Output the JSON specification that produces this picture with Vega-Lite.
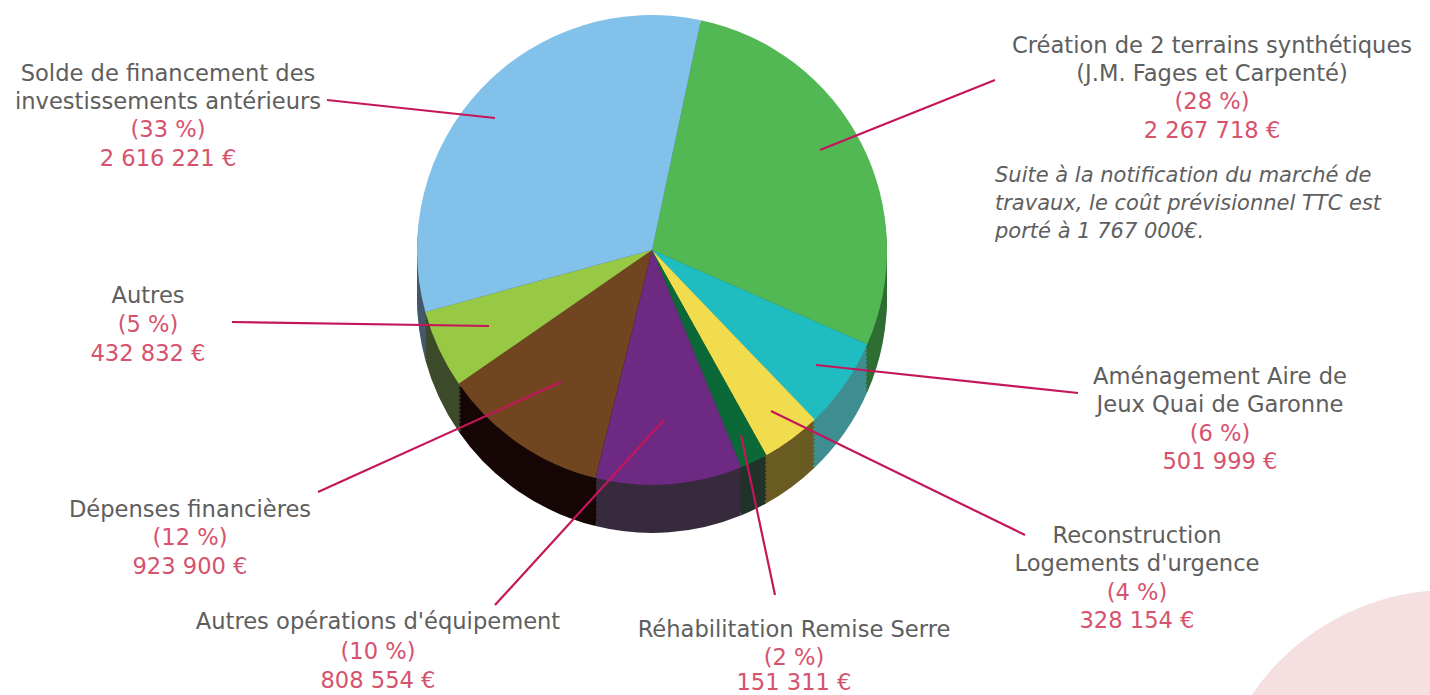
{
  "$schema": "https://vega.github.io/schema/vega-lite/v6.json",
  "width": 1430,
  "height": 695,
  "padding": 0,
  "autosize": {"type": "none"},
  "background": "white",
  "config": {"view": {"stroke": null}},
  "resolve": {"scale": {"color": "independent"}},
  "datasets": {
    "slices": [
      {"key": "Création de 2 terrains synthétiques", "value": 2267718, "rank": 1},
      {"key": "Aménagement Aire de Jeux Quai de Garonne", "value": 501999, "rank": 2},
      {"key": "Reconstruction Logements d'urgence", "value": 328154, "rank": 3},
      {"key": "Réhabilitation Remise Serre", "value": 151311, "rank": 4},
      {"key": "Autres opérations d'équipement", "value": 808554, "rank": 5},
      {"key": "Dépenses financières", "value": 923900, "rank": 6},
      {"key": "Autres", "value": 432832, "rank": 7},
      {"key": "Solde de financement des investissements antérieurs", "value": 2616221, "rank": 8}
    ],
    "deco": [{"shape": "disc"}],
    "leaders": [
      {"key": "Solde", "x": 327, "y": 100, "x2": 495, "y2": 118},
      {"key": "Création", "x": 995, "y": 80, "x2": 820, "y2": 150},
      {"key": "Aménagement", "x": 1078, "y": 393, "x2": 816, "y2": 365},
      {"key": "Reconstruction", "x": 1025, "y": 535, "x2": 771, "y2": 411},
      {"key": "Réhabilitation", "x": 775, "y": 595, "x2": 741, "y2": 435},
      {"key": "Autres opérations", "x": 495, "y": 605, "x2": 664, "y2": 420},
      {"key": "Dépenses", "x": 318, "y": 492, "x2": 561, "y2": 382},
      {"key": "Autres", "x": 232, "y": 322, "x2": 489, "y2": 326}
    ],
    "labels": [
      {"text": "Solde de financement des", "kind": "name", "x": 168, "y": 74},
      {"text": "investissements antérieurs", "kind": "name", "x": 168, "y": 102},
      {"text": "(33 %)", "kind": "value", "x": 168, "y": 130},
      {"text": "2 616 221 €", "kind": "value", "x": 168, "y": 159},
      {"text": "Création de 2 terrains synthétiques", "kind": "name", "x": 1212, "y": 46},
      {"text": "(J.M. Fages et Carpenté)", "kind": "name", "x": 1212, "y": 74},
      {"text": "(28 %)", "kind": "value", "x": 1212, "y": 102},
      {"text": "2 267 718 €", "kind": "value", "x": 1212, "y": 131},
      {"text": "Autres", "kind": "name", "x": 148, "y": 296},
      {"text": "(5 %)", "kind": "value", "x": 148, "y": 325},
      {"text": "432 832 €", "kind": "value", "x": 148, "y": 354},
      {"text": "Aménagement Aire de", "kind": "name", "x": 1220, "y": 377},
      {"text": "Jeux Quai de Garonne", "kind": "name", "x": 1220, "y": 405},
      {"text": "(6 %)", "kind": "value", "x": 1220, "y": 434},
      {"text": "501 999 €", "kind": "value", "x": 1220, "y": 462},
      {"text": "Dépenses financières", "kind": "name", "x": 190, "y": 510},
      {"text": "(12 %)", "kind": "value", "x": 190, "y": 538},
      {"text": "923 900 €", "kind": "value", "x": 190, "y": 567},
      {"text": "Reconstruction", "kind": "name", "x": 1137, "y": 536},
      {"text": "Logements d'urgence", "kind": "name", "x": 1137, "y": 564},
      {"text": "(4 %)", "kind": "value", "x": 1137, "y": 593},
      {"text": "328 154 €", "kind": "value", "x": 1137, "y": 621},
      {"text": "Autres opérations d'équipement", "kind": "name", "x": 378, "y": 622},
      {"text": "(10 %)", "kind": "value", "x": 378, "y": 652},
      {"text": "808 554 €", "kind": "value", "x": 378, "y": 681},
      {"text": "Réhabilitation Remise Serre", "kind": "name", "x": 794, "y": 630},
      {"text": "(2 %)", "kind": "value", "x": 794, "y": 658},
      {"text": "151 311 €", "kind": "value", "x": 794, "y": 683}
    ],
    "note": [
      {"text": "Suite à la notification du marché de", "x": 995, "y": 176},
      {"text": "travaux, le coût prévisionnel TTC est", "x": 995, "y": 204},
      {"text": "porté à 1 767 000€.", "x": 995, "y": 232}
    ]
  },
  "layer": [
    {
      "data": {"name": "deco"},
      "mark": {"type": "arc", "radius": 240, "theta": 0, "theta2": 6.2832, "fill": "#f5dfe0"},
      "encoding": {
        "x": {"datum": 1450, "type": "quantitative", "scale": {"domain": [0, 1430], "nice": false, "zero": false}, "axis": null},
        "y": {"datum": 830, "type": "quantitative", "scale": {"domain": [0, 695], "reverse": true, "nice": false, "zero": false}, "axis": null}
      }
    },
    {"data": {"name": "slices"}, "mark": {"type": "arc", "radius": 235},
      "encoding": {"x": {"datum": 652, "type": "quantitative"}, "y": {"datum": 298, "type": "quantitative"},
        "theta": {"field": "value", "type": "quantitative", "stack": true, "scale": {"range": [0.2094, 6.4926]}}, "order": {"field": "rank"},
        "fill": {"field": "key", "type": "nominal", "legend": null, "sort": null,
          "scale": {"domain": ["Création de 2 terrains synthétiques", "Aménagement Aire de Jeux Quai de Garonne", "Reconstruction Logements d'urgence", "Réhabilitation Remise Serre", "Autres opérations d'équipement", "Dépenses financières", "Autres", "Solde de financement des investissements antérieurs"],
            "range": ["#2f6e33", "#3f8e92", "#6a5b22", "#213329", "#362a3c", "#160606", "#3d4b2a", "#45596b"]}}}},
    {"data": {"name": "slices"}, "mark": {"type": "arc", "radius": 235},
      "encoding": {"x": {"datum": 652, "type": "quantitative"}, "y": {"datum": 294, "type": "quantitative"},
        "theta": {"field": "value", "type": "quantitative", "stack": true}, "order": {"field": "rank"},
        "fill": {"field": "key", "type": "nominal", "legend": null, "sort": null}}},
    {"data": {"name": "slices"}, "mark": {"type": "arc", "radius": 235},
      "encoding": {"x": {"datum": 652, "type": "quantitative"}, "y": {"datum": 290, "type": "quantitative"},
        "theta": {"field": "value", "type": "quantitative", "stack": true}, "order": {"field": "rank"},
        "fill": {"field": "key", "type": "nominal", "legend": null, "sort": null}}},
    {"data": {"name": "slices"}, "mark": {"type": "arc", "radius": 235},
      "encoding": {"x": {"datum": 652, "type": "quantitative"}, "y": {"datum": 286, "type": "quantitative"},
        "theta": {"field": "value", "type": "quantitative", "stack": true}, "order": {"field": "rank"},
        "fill": {"field": "key", "type": "nominal", "legend": null, "sort": null}}},
    {"data": {"name": "slices"}, "mark": {"type": "arc", "radius": 235},
      "encoding": {"x": {"datum": 652, "type": "quantitative"}, "y": {"datum": 282, "type": "quantitative"},
        "theta": {"field": "value", "type": "quantitative", "stack": true}, "order": {"field": "rank"},
        "fill": {"field": "key", "type": "nominal", "legend": null, "sort": null}}},
    {"data": {"name": "slices"}, "mark": {"type": "arc", "radius": 235},
      "encoding": {"x": {"datum": 652, "type": "quantitative"}, "y": {"datum": 278, "type": "quantitative"},
        "theta": {"field": "value", "type": "quantitative", "stack": true}, "order": {"field": "rank"},
        "fill": {"field": "key", "type": "nominal", "legend": null, "sort": null}}},
    {"data": {"name": "slices"}, "mark": {"type": "arc", "radius": 235},
      "encoding": {"x": {"datum": 652, "type": "quantitative"}, "y": {"datum": 274, "type": "quantitative"},
        "theta": {"field": "value", "type": "quantitative", "stack": true}, "order": {"field": "rank"},
        "fill": {"field": "key", "type": "nominal", "legend": null, "sort": null}}},
    {"data": {"name": "slices"}, "mark": {"type": "arc", "radius": 235},
      "encoding": {"x": {"datum": 652, "type": "quantitative"}, "y": {"datum": 270, "type": "quantitative"},
        "theta": {"field": "value", "type": "quantitative", "stack": true}, "order": {"field": "rank"},
        "fill": {"field": "key", "type": "nominal", "legend": null, "sort": null}}},
    {"data": {"name": "slices"}, "mark": {"type": "arc", "radius": 235},
      "encoding": {"x": {"datum": 652, "type": "quantitative"}, "y": {"datum": 266, "type": "quantitative"},
        "theta": {"field": "value", "type": "quantitative", "stack": true}, "order": {"field": "rank"},
        "fill": {"field": "key", "type": "nominal", "legend": null, "sort": null}}},
    {"data": {"name": "slices"}, "mark": {"type": "arc", "radius": 235},
      "encoding": {"x": {"datum": 652, "type": "quantitative"}, "y": {"datum": 262, "type": "quantitative"},
        "theta": {"field": "value", "type": "quantitative", "stack": true}, "order": {"field": "rank"},
        "fill": {"field": "key", "type": "nominal", "legend": null, "sort": null}}},
    {"data": {"name": "slices"}, "mark": {"type": "arc", "radius": 235},
      "encoding": {"x": {"datum": 652, "type": "quantitative"}, "y": {"datum": 258, "type": "quantitative"},
        "theta": {"field": "value", "type": "quantitative", "stack": true}, "order": {"field": "rank"},
        "fill": {"field": "key", "type": "nominal", "legend": null, "sort": null}}},
    {"data": {"name": "slices"}, "mark": {"type": "arc", "radius": 235},
      "encoding": {"x": {"datum": 652, "type": "quantitative"}, "y": {"datum": 254, "type": "quantitative"},
        "theta": {"field": "value", "type": "quantitative", "stack": true}, "order": {"field": "rank"},
        "fill": {"field": "key", "type": "nominal", "legend": null, "sort": null}}},
    {"data": {"name": "slices"}, "mark": {"type": "arc", "radius": 235},
      "encoding": {"x": {"datum": 652, "type": "quantitative"}, "y": {"datum": 250, "type": "quantitative"},
        "theta": {"field": "value", "type": "quantitative", "stack": true}, "order": {"field": "rank"},
        "color": {"field": "key", "type": "nominal", "legend": null, "sort": null,
          "scale": {"domain": ["Création de 2 terrains synthétiques", "Aménagement Aire de Jeux Quai de Garonne", "Reconstruction Logements d'urgence", "Réhabilitation Remise Serre", "Autres opérations d'équipement", "Dépenses financières", "Autres", "Solde de financement des investissements antérieurs"],
            "range": ["#52b854", "#1fbdc1", "#f1dc4d", "#0b6937", "#6e2a82", "#714520", "#97c945", "#82c1ea"]}}}},
    {
      "data": {"name": "leaders"},
      "mark": {"type": "rule", "color": "#c4165a", "strokeWidth": 2.2},
      "encoding": {
        "x": {"field": "x", "type": "quantitative"},
        "y": {"field": "y", "type": "quantitative"},
        "x2": {"field": "x2"},
        "y2": {"field": "y2"}
      }
    },
    {
      "data": {"name": "labels"},
      "mark": {"type": "text", "font": "DejaVu Sans", "fontSize": 22.6, "align": "center", "baseline": "middle"},
      "encoding": {
        "x": {"field": "x", "type": "quantitative"},
        "y": {"field": "y", "type": "quantitative"},
        "text": {"field": "text"},
        "color": {"field": "kind", "type": "nominal", "legend": null, "scale": {"domain": ["name", "value"], "range": ["#5e5e5e", "#d6526d"]}}
      }
    },
    {
      "data": {"name": "note"},
      "mark": {"type": "text", "font": "DejaVu Sans", "fontSize": 21, "fontStyle": "italic", "align": "left", "baseline": "middle", "color": "#5e5e5e"},
      "encoding": {
        "x": {"field": "x", "type": "quantitative"},
        "y": {"field": "y", "type": "quantitative"},
        "text": {"field": "text"}
      }
    }
  ]
}
